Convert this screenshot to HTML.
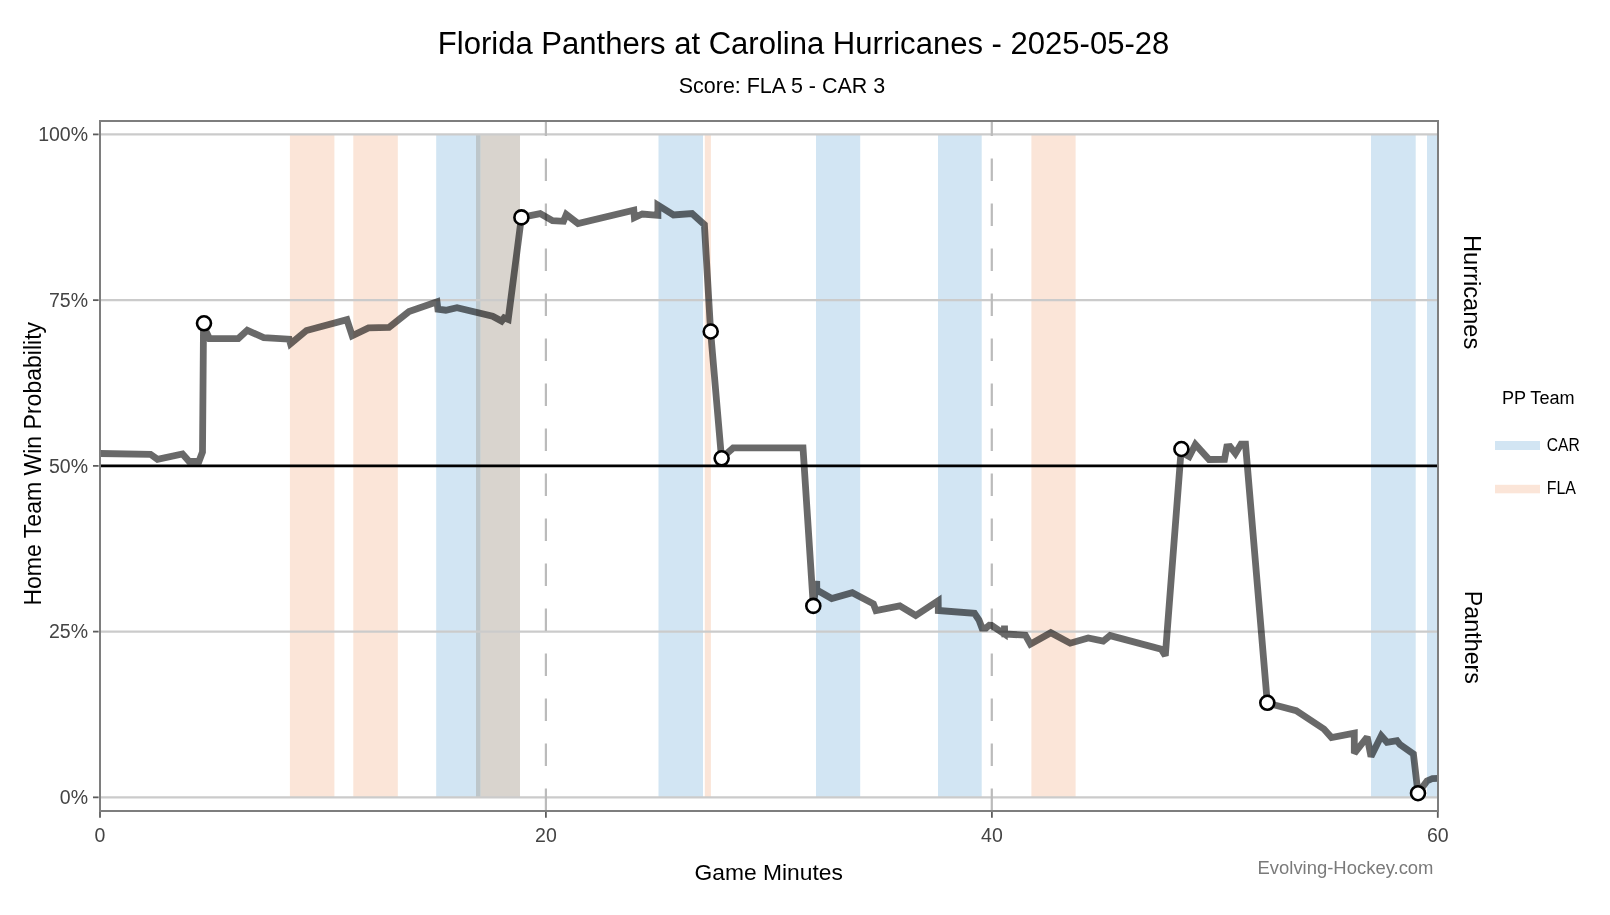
<!DOCTYPE html>
<html><head><meta charset="utf-8"><title>Win Probability</title>
<style>
html,body{margin:0;padding:0;background:#fff;width:1610px;height:915px;overflow:hidden}
svg{display:block;will-change:transform}
text{font-family:"Liberation Sans",sans-serif}
</style></head><body>
<svg width="1610" height="915" viewBox="0 0 1610 915">
<rect width="1610" height="915" fill="#fff"/>

<rect x="289.9" y="134.4" width="44.5" height="663.0" fill="#fbe5d8"/>
<rect x="353.3" y="134.4" width="44.5" height="663.0" fill="#fbe5d8"/>
<rect x="436.2" y="134.4" width="39.8" height="663.0" fill="#d2e5f3"/>
<rect x="476" y="134.4" width="4.8" height="663.0" fill="#bdc6ca"/>
<rect x="480.8" y="134.4" width="39.2" height="663.0" fill="#d9d4ce"/>
<rect x="658.5" y="134.4" width="44.5" height="663.0" fill="#d2e5f3"/>
<rect x="704.8" y="134.4" width="6.1" height="663.0" fill="#fbe5d8"/>
<rect x="816" y="134.4" width="44.2" height="663.0" fill="#d2e5f3"/>
<rect x="938" y="134.4" width="43.7" height="663.0" fill="#d2e5f3"/>
<rect x="1031.4" y="134.4" width="44.2" height="663.0" fill="#fbe5d8"/>
<rect x="1371" y="134.4" width="44.7" height="663.0" fill="#d2e5f3"/>
<rect x="1427" y="134.4" width="11.0" height="663.0" fill="#d2e5f3"/>
<line x1="100" x2="1438" y1="797.35" y2="797.35" stroke="#cbcbcb" stroke-width="2.2"/>
<line x1="100" x2="1438" y1="631.61" y2="631.61" stroke="#cbcbcb" stroke-width="2.2"/>
<line x1="100" x2="1438" y1="300.14" y2="300.14" stroke="#cbcbcb" stroke-width="2.2"/>
<line x1="100" x2="1438" y1="134.40" y2="134.40" stroke="#cbcbcb" stroke-width="2.2"/>
<line x1="545.9" x2="545.9" y1="121" y2="811" stroke="#bbbbbb" stroke-width="2.2" stroke-dasharray="22.5 22.5" stroke-dashoffset="7.6"/>
<line x1="991.8" x2="991.8" y1="121" y2="811" stroke="#bbbbbb" stroke-width="2.2" stroke-dasharray="22.5 22.5" stroke-dashoffset="7.6"/>
<line x1="100" x2="1438" y1="465.88" y2="465.88" stroke="#000" stroke-width="2.6"/>
<path d="M100,453.5 L150.5,454.3 L157.5,459.3 L182.5,454.0 L189,461.3 L199,461.3 L202.5,452 L203.5,326 L209.5,338.6 L238.3,338.6 L247.3,330.3 L263.7,337.6 L289.2,339.2 L290.5,343.8 L306.5,330.5 L346.9,319.6 L352.2,335.8 L368.5,327.9 L389,327.4 L409,311.6 L437,301.8 L437.9,309.2 L445.8,310.2 L457,307.8 L492.6,316.2 L501.6,321.1 L504.1,317.9 L508.2,319.5 L521.4,217.4 L540.2,213.6 L552.5,220.6 L563.5,221.3 L566.3,214.5 L578,223.5 L633.8,210.2 L634.4,217.6 L642.3,214 L657.9,215.3 L657.9,205.2 L673.5,215 L692,213.5 L704.4,224.7 L710.6,331.5 L721.5,458.3 L733.2,447.9 L803,447.9 L813.3,605.9 L816.7,581 L816.8,590 L831.7,598.5 L852.3,592.7 L873.4,603.8 L876,610.7 L899.8,605.9 L915.7,615.5 L938.2,600.7 L938.3,610.5 L974.5,613.3 L979,620 L982,628 L986,628 L989.3,625.2 L991.5,625.4 L1004.4,634 L1004.5,625.5 L1004.7,634 L1025.4,635.2 L1030.4,644.2 L1050.8,632.7 L1070.2,643.2 L1088.2,638 L1103.2,641.1 L1110.1,635.6 L1161.3,649.3 L1165.3,655.8 L1181,452 L1189.2,456.5 L1195.4,444.5 L1209.1,459.5 L1224.5,459.3 L1226.8,446.8 L1230,446.5 L1235.4,453.5 L1241,444.2 L1245.5,444.2 L1267.3,702.7 L1275.6,705.3 L1296.2,710.6 L1323.9,729 L1331.5,737.6 L1354.3,733.2 L1354.3,753.3 L1367.2,737 L1371,756.6 L1381.3,735.8 L1387,742.3 L1397,740.7 L1400,744.5 L1413.4,753.9 L1418,793.2 L1427,781 L1432.5,778.5 L1438,778.3" fill="none" stroke="#000" stroke-opacity="0.59" stroke-width="6.8" stroke-linejoin="miter" stroke-miterlimit="2.25"/>
<circle cx="204" cy="323.3" r="7.0" fill="#fff" stroke="#000" stroke-width="2.6"/>
<circle cx="521.4" cy="217.4" r="7.0" fill="#fff" stroke="#000" stroke-width="2.6"/>
<circle cx="710.7" cy="331.5" r="7.0" fill="#fff" stroke="#000" stroke-width="2.6"/>
<circle cx="721.65" cy="458.3" r="7.0" fill="#fff" stroke="#000" stroke-width="2.6"/>
<circle cx="813.3" cy="605.9" r="7.0" fill="#fff" stroke="#000" stroke-width="2.6"/>
<circle cx="1181.4" cy="449" r="7.0" fill="#fff" stroke="#000" stroke-width="2.6"/>
<circle cx="1267.3" cy="702.8" r="7.0" fill="#fff" stroke="#000" stroke-width="2.6"/>
<circle cx="1418" cy="793.2" r="7.0" fill="#fff" stroke="#000" stroke-width="2.6"/>
<rect x="100" y="121" width="1338" height="690" fill="none" stroke="#7e7e7e" stroke-width="2"/>
<line x1="93" x2="98.6" y1="134.40" y2="134.40" stroke="#5c5c5c" stroke-width="1.8"/>
<text x="88" y="141.0" font-size="19.5" fill="#444" text-anchor="end">100%</text>
<line x1="93" x2="98.6" y1="300.14" y2="300.14" stroke="#5c5c5c" stroke-width="1.8"/>
<text x="88" y="306.7" font-size="19.5" fill="#444" text-anchor="end">75%</text>
<line x1="93" x2="98.6" y1="465.88" y2="465.88" stroke="#5c5c5c" stroke-width="1.8"/>
<text x="88" y="472.5" font-size="19.5" fill="#444" text-anchor="end">50%</text>
<line x1="93" x2="98.6" y1="631.61" y2="631.61" stroke="#5c5c5c" stroke-width="1.8"/>
<text x="88" y="638.2" font-size="19.5" fill="#444" text-anchor="end">25%</text>
<line x1="93" x2="98.6" y1="797.35" y2="797.35" stroke="#5c5c5c" stroke-width="1.8"/>
<text x="88" y="804.0" font-size="19.5" fill="#444" text-anchor="end">0%</text>
<line x1="100.0" x2="100.0" y1="812" y2="817.8" stroke="#5c5c5c" stroke-width="1.8"/>
<text x="100.0" y="841.7" font-size="19.5" fill="#444" text-anchor="middle">0</text>
<line x1="545.9" x2="545.9" y1="812" y2="817.8" stroke="#5c5c5c" stroke-width="1.8"/>
<text x="545.9" y="841.7" font-size="19.5" fill="#444" text-anchor="middle">20</text>
<line x1="991.9" x2="991.9" y1="812" y2="817.8" stroke="#5c5c5c" stroke-width="1.8"/>
<text x="991.9" y="841.7" font-size="19.5" fill="#444" text-anchor="middle">40</text>
<line x1="1437.8" x2="1437.8" y1="812" y2="817.8" stroke="#5c5c5c" stroke-width="1.8"/>
<text x="1437.8" y="841.7" font-size="19.5" fill="#444" text-anchor="middle">60</text>
<text x="437.8" y="53.7" font-size="30.6" fill="#000" textLength="731.5" lengthAdjust="spacingAndGlyphs">Florida Panthers at Carolina Hurricanes - 2025-05-28</text>
<text x="678.8" y="92.5" font-size="21.6" fill="#000" textLength="206.3" lengthAdjust="spacingAndGlyphs">Score: FLA 5 - CAR 3</text>
<text x="694.6" y="880" font-size="22.8" fill="#000" textLength="148.2" lengthAdjust="spacingAndGlyphs">Game Minutes</text>
<text transform="translate(41.1,605.6) rotate(-90)" x="0" y="0" font-size="23" fill="#000" textLength="283.7" lengthAdjust="spacingAndGlyphs">Home Team Win Probability</text>
<text transform="translate(1464.2,235) rotate(90)" x="0" y="0" font-size="23.2" fill="#000" textLength="114.3" lengthAdjust="spacingAndGlyphs">Hurricanes</text>
<text transform="translate(1464.9,590.8) rotate(90)" x="0" y="0" font-size="23.2" fill="#000" textLength="93.2" lengthAdjust="spacingAndGlyphs">Panthers</text>
<text x="1501.9" y="404.1" font-size="18" fill="#000" textLength="72.7" lengthAdjust="spacingAndGlyphs">PP Team</text>
<rect x="1495" y="441" width="45" height="9" fill="#d2e5f3"/>
<text x="1546.7" y="450.8" font-size="17.5" fill="#000" textLength="33" lengthAdjust="spacingAndGlyphs">CAR</text>
<rect x="1495" y="484.8" width="45" height="8.5" fill="#fbe5d8"/>
<text x="1546.7" y="493.8" font-size="17.5" fill="#000" textLength="29.2" lengthAdjust="spacingAndGlyphs">FLA</text>
<text x="1257.5" y="873.6" font-size="18" fill="#7a7a7a" textLength="176" lengthAdjust="spacingAndGlyphs">Evolving-Hockey.com</text>
</svg>
</body></html>
